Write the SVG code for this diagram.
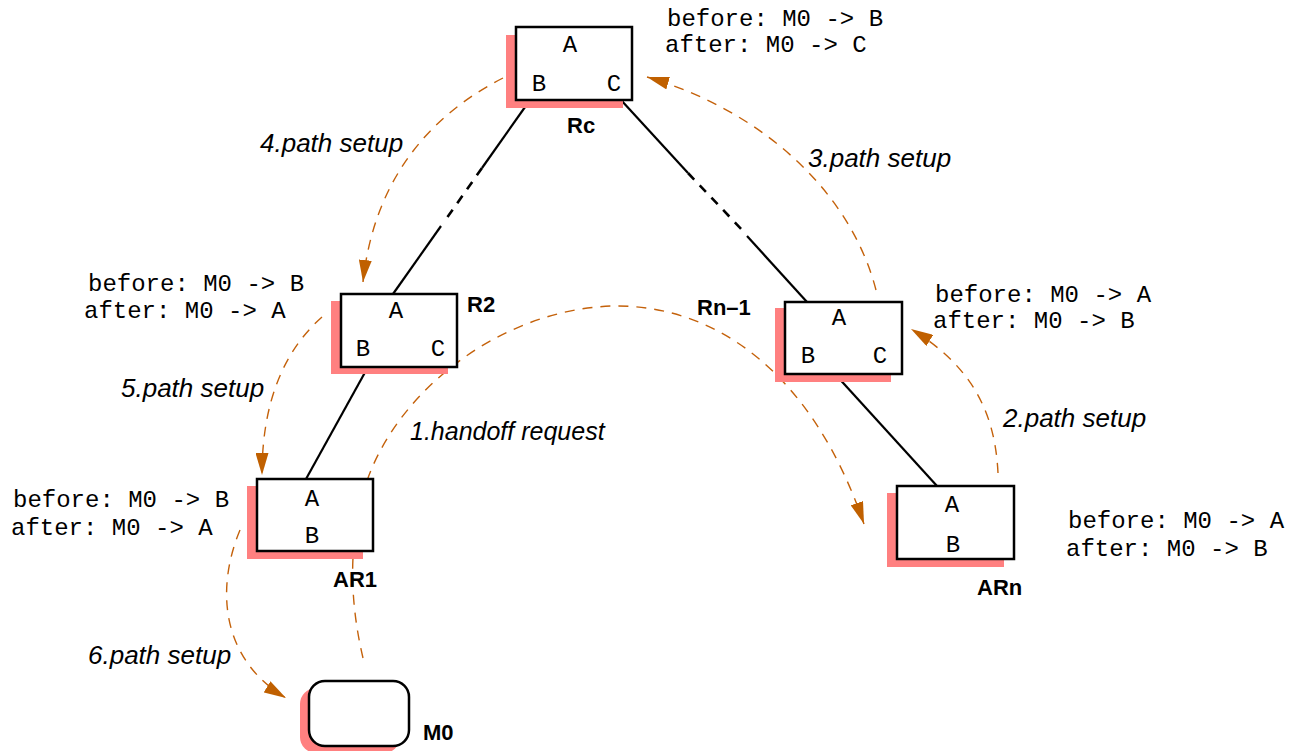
<svg xmlns="http://www.w3.org/2000/svg" width="1293" height="751" viewBox="0 0 1293 751">
<style>
.shadow{fill:#FF8080;stroke:none}
.box{fill:#FFFFFF;stroke:#000000;stroke-width:2.5}
.mono{font-family:"Liberation Mono","DejaVu Sans Mono",monospace;font-size:24px;fill:#000000}
.bold{font-family:"Liberation Sans",Arial,sans-serif;font-size:22px;font-weight:bold;fill:#000000}
.ital{font-family:"Liberation Sans",Arial,sans-serif;font-size:26px;font-style:italic;fill:#000000}
.ital2{font-family:"Liberation Sans",Arial,sans-serif;font-size:25px;font-style:italic;fill:#000000}
.link{stroke:#000000;stroke-width:2.2;fill:none}
.dlink{stroke:#000000;stroke-width:2.6;fill:none;stroke-dasharray:9,8}
.flow{stroke:#C4610A;stroke-width:1.4;fill:none;stroke-dasharray:10,8;marker-end:url(#arr)}
</style>
<defs>
<marker id="arr" viewBox="0 0 22 13" refX="22" refY="6.5" markerWidth="22" markerHeight="13" orient="auto" markerUnits="userSpaceOnUse">
<path d="M0,0 L22,6.5 L0,13 z" fill="#C06000"/>
</marker>
</defs>
<rect width="1293" height="751" fill="#FFFFFF"/>

<g id="connectors">
<line class="link" x1="530" y1="100" x2="482" y2="168"/>
<line class="dlink" x1="482" y1="168" x2="444" y2="222"/>
<line class="link" x1="441" y1="226" x2="393" y2="294"/>
<line class="link" x1="621" y1="100" x2="688" y2="173"/>
<line class="dlink" x1="688" y1="173" x2="745" y2="233"/>
<line class="link" x1="747" y1="236" x2="807" y2="302"/>
<line class="link" x1="368" y1="367" x2="306" y2="479"/>
<line class="link" x1="835" y1="374" x2="937" y2="486"/>
<path class="flow" d="M 363 658 Q 340 560 368 478 C 400 390, 500 310, 612 306 C 715 304, 812 372, 864 524"/>
<path class="flow" d="M 998 473 C 995 410, 970 365, 911 329"/>
<path class="flow" d="M 876 290 C 850 190, 760 110, 647 77"/>
<path class="flow" d="M 503 78 C 440 110, 375 170, 363 282"/>
<path class="flow" d="M 322 317 C 285 350, 262 400, 262 475"/>
<path class="flow" d="M 240 530 C 215 590, 222 660, 286 698"/>
</g>

<g id="node-Rc">
<rect class="shadow" x="506" y="35" width="117" height="73"/>
<rect class="box" x="516" y="27" width="116" height="73"/>
<text class="mono" x="570" y="52" text-anchor="middle">A</text>
<text class="mono" x="539" y="91" text-anchor="middle">B</text>
<text class="mono" x="614" y="91" text-anchor="middle">C</text>
<text class="bold" x="567" y="133">Rc</text>
</g>

<g id="node-R2">
<rect class="shadow" x="331" y="301" width="117" height="73"/>
<rect class="box" x="341" y="294" width="116" height="73"/>
<text class="mono" x="396" y="318" text-anchor="middle">A</text>
<text class="mono" x="363" y="356" text-anchor="middle">B</text>
<text class="mono" x="438" y="356" text-anchor="middle">C</text>
<text class="bold" x="467" y="312">R2</text>
</g>

<g id="node-Rn-1">
<rect class="shadow" x="775" y="308" width="116" height="74"/>
<rect class="box" x="785" y="302" width="117" height="72"/>
<text class="mono" x="839" y="325" text-anchor="middle">A</text>
<text class="mono" x="808" y="363" text-anchor="middle">B</text>
<text class="mono" x="880" y="363" text-anchor="middle">C</text>
<text class="bold" x="697" y="315">Rn–1</text>
</g>

<g id="node-AR1">
<rect class="shadow" x="247" y="486" width="116" height="73"/>
<rect class="box" x="257" y="479" width="116" height="72"/>
<text class="mono" x="312" y="506" text-anchor="middle">A</text>
<text class="mono" x="312" y="543" text-anchor="middle">B</text>
<text class="bold" x="333" y="587">AR1</text>
</g>

<g id="node-ARn">
<rect class="shadow" x="887" y="493" width="117" height="74"/>
<rect class="box" x="897" y="486" width="117" height="73"/>
<text class="mono" x="952" y="512" text-anchor="middle">A</text>
<text class="mono" x="953" y="552" text-anchor="middle">B</text>
<text class="bold" x="977" y="595">ARn</text>
</g>

<g id="node-M0">
<rect class="shadow" x="300" y="688" width="100" height="65" rx="16" ry="16"/>
<rect class="box" x="309" y="681" width="100" height="65" rx="16" ry="16"/>
<text class="bold" x="423" y="740">M0</text>
</g>

<g id="annotations">
<text class="mono" x="667" y="26">before: M0 -&gt; B</text>
<text class="mono" x="665" y="52">after: M0 -&gt; C</text>
<text class="mono" x="88" y="291">before: M0 -&gt; B</text>
<text class="mono" x="84" y="318">after: M0 -&gt; A</text>
<text class="mono" x="935" y="302">before: M0 -&gt; A</text>
<text class="mono" x="933" y="328">after: M0 -&gt; B</text>
<text class="mono" x="13" y="507">before: M0 -&gt; B</text>
<text class="mono" x="11" y="535">after: M0 -&gt; A</text>
<text class="mono" x="1068" y="528">before: M0 -&gt; A</text>
<text class="mono" x="1066" y="556">after: M0 -&gt; B</text>
</g>

<g id="labels">
<text class="ital" x="260" y="152">4.path setup</text>
<text class="ital" x="808" y="167">3.path setup</text>
<text class="ital" x="121" y="397">5.path setup</text>
<text class="ital2" x="410" y="440">1.handoff request</text>
<text class="ital" x="1003" y="427">2.path setup</text>
<text class="ital" x="88" y="664">6.path setup</text>
</g>
</svg>
